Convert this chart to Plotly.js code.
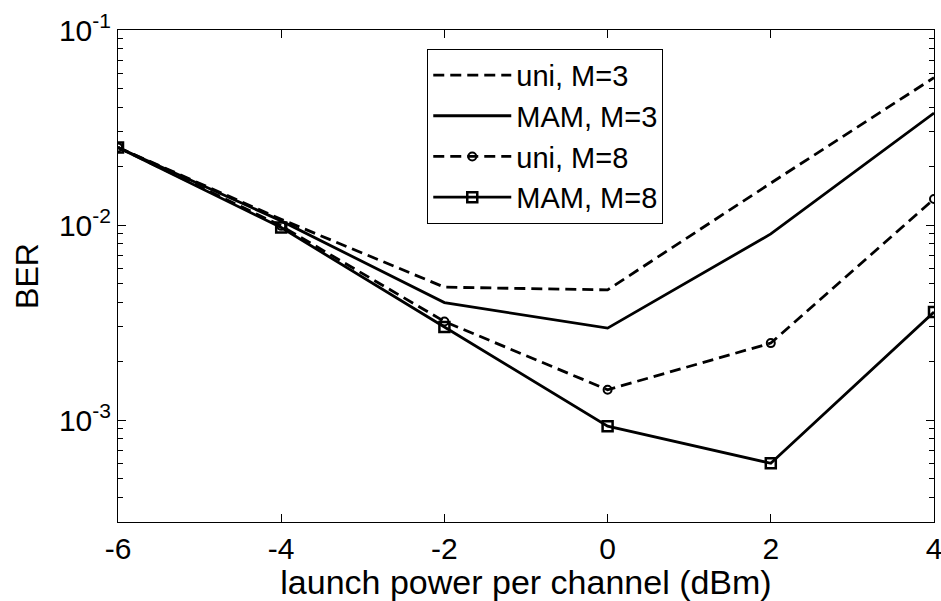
<!DOCTYPE html>
<html>
<head>
<meta charset="utf-8">
<script src="https://cdn.plot.ly/plotly-3.0.1.min.js"></script>
<style>
  html, body { margin: 0; padding: 0; background: #fff; }
  #chart { width: 941px; height: 601px; }
</style>
</head>
<body>
<div id="chart"></div>
<script>
// Launch power per channel (dBm)
const launchPower = [-6, -4, -2, 0, 2, 4];

// BER values
const berUniM3 = [0.025, 0.0107, 0.0048, 0.00465, 0.0164, 0.057];
const berMamM3 = [0.025, 0.0105, 0.0040, 0.00296, 0.0090, 0.0375];
const berUniM8 = [0.025, 0.0099, 0.0032, 0.00143, 0.00248, 0.0136];
const berMamM8 = [0.025, 0.0097, 0.0030, 0.00093, 0.00060, 0.00358];

const seriesNames = ['uni, M=3', 'MAM, M=3', 'uni, M=8', 'MAM, M=8'];

const xTickVals = [-6, -4, -2, 0, 2, 4];
const xTickText = ['-6', '-4', '-2', '0', '2', '4'];
const yTickVals = [0.001, 0.01, 0.1];
const yTickText = ['10<sup>-3</sup>', '10<sup>-2</sup>', '10<sup>-1</sup>'];

const FONT = '"Liberation Sans", Arial, Helvetica, sans-serif';
const dashPat = '11px,6px';
const LW = 2.8;

const traces = [
  { x: launchPower, y: berUniM3, name: seriesNames[0], mode: 'lines',
    line: { color: '#000', width: LW, dash: dashPat } },
  { x: launchPower, y: berMamM3, name: seriesNames[1], mode: 'lines',
    line: { color: '#000', width: LW } },
  { x: launchPower, y: berUniM8, name: seriesNames[2], mode: 'lines+markers',
    line: { color: '#000', width: LW, dash: dashPat },
    marker: { symbol: 'circle-open', size: 8, color: '#000', line: { width: 2, color: '#000' } } },
  { x: launchPower, y: berMamM8, name: seriesNames[3], mode: 'lines+markers',
    line: { color: '#000', width: LW },
    marker: { symbol: 'square-open', size: 10, color: '#000', line: { width: 2.5, color: '#000' } } }
];

const layout = {
  width: 941, height: 601,
  margin: { l: 118, r: 7, t: 30, b: 79 },
  paper_bgcolor: '#fff', plot_bgcolor: '#fff',
  font: { family: FONT, size: 28, color: '#000' },
  showlegend: true,
  legend: {
    x: 0.379, y: 0.962, xanchor: 'left', yanchor: 'top',
    bgcolor: '#fff', bordercolor: '#000', borderwidth: 1,
    font: { family: FONT, size: 29, color: '#000' },
    itemwidth: 78, tracegroupgap: 0
  },
  xaxis: {
    range: [-6, 4],
    tickmode: 'array', tickvals: xTickVals, ticktext: xTickText,
    ticks: 'inside', ticklen: 8, tickwidth: 1, tickcolor: '#000',
    showline: true, linecolor: '#000', linewidth: 1, mirror: 'ticks',
    showgrid: false, zeroline: false,
    ticklabeloverflow: 'allow',
    tickfont: { family: FONT, size: 30, color: '#000' },
    title: { text: 'launch power per channel (dBm)', font: { family: FONT, size: 34, color: '#000' }, standoff: 1 }
  },
  yaxis: {
    type: 'log',
    range: [Math.log10(3e-4), -1],
    tickmode: 'array', tickvals: yTickVals, ticktext: yTickText,
    ticks: 'inside', ticklen: 8, tickwidth: 1, tickcolor: '#000',
    minor: { ticks: 'inside', ticklen: 5, tickwidth: 1, tickcolor: '#000', dtick: 'D1', showgrid: false },
    showline: true, linecolor: '#000', linewidth: 1, mirror: 'ticks',
    showgrid: false, zeroline: false,
    ticklabeloverflow: 'allow',
    tickfont: { family: FONT, size: 30, color: '#000' },
    title: { text: 'BER', font: { family: FONT, size: 32, color: '#000' }, standoff: 10 }
  }
};

Plotly.newPlot('chart', traces, layout, { displayModeBar: false, staticPlot: true });
</script>
</body>
</html>
